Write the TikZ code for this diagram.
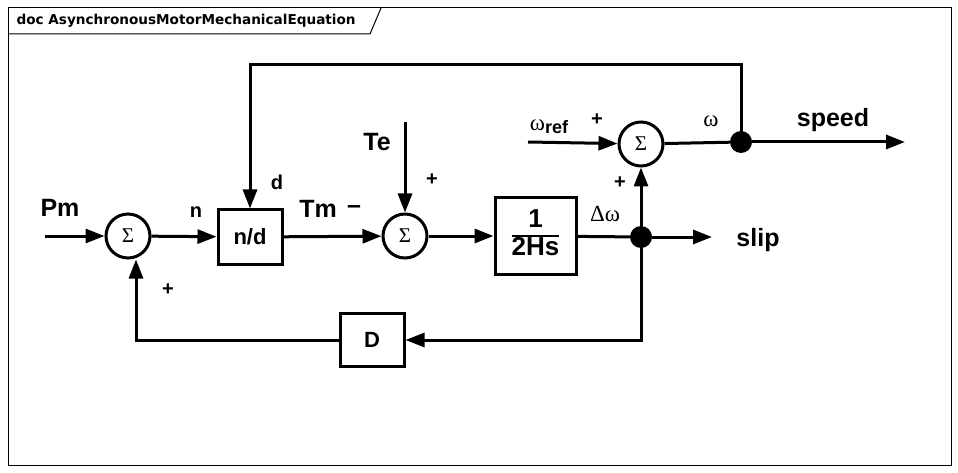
\documentclass[tikz,border=0pt]{standalone}
\usepackage{fontspec}
\setmainfont{Liberation Sans}
\newfontfamily\titlefont{DejaVu Sans}
\newfontfamily\serifgr{Liberation Serif}
\usetikzlibrary{arrows.meta}
\begin{document}
\begin{tikzpicture}[x=1pt,y=-1pt,
  wire/.style={line width=3pt},
  arr/.style={wire,-{Triangle[length=19pt,width=14pt]}},
  sumnode/.style={circle,draw,line width=3pt,minimum size=44pt,inner sep=0pt,font=\serifgr\fontsize{21}{21}\selectfont},
  blk/.style={draw,line width=3pt,inner sep=0pt,font=\bfseries\fontsize{22}{24}\selectfont},
  dotn/.style={circle,fill=black,minimum size=22pt,inner sep=0pt},
  lbl/.style={font=\bfseries\fontsize{25}{26}\selectfont},
  slbl/.style={font=\bfseries\fontsize{20}{21}\selectfont},
  glbl/.style={font=\serifgr\fontsize{23}{24}\selectfont},
  frm/.style={line width=1pt}]
\useasboundingbox (0,0) rectangle (958,473);
\draw[frm] (8,8) rectangle (951,465);
\draw[frm] (8,34) -- (370,34) -- (381,8);
\node[anchor=west,font=\titlefont\bfseries\fontsize{13.6}{15}\selectfont] (title) at (13,21) {doc AsynchronousMotorMechanicalEquation};
\node[sumnode] (s1) at (128,236) {Σ};
\node[blk,minimum width=64pt,minimum height=54pt] (nd) at (250,237) {n/d};
\node[sumnode] (s2) at (405,236) {Σ};
\node[blk,minimum width=81pt,minimum height=76pt,font=\bfseries\fontsize{26}{28}\selectfont] (h) at (535.5,236) {\setlength{\arrayrulewidth}{2pt}\renewcommand{\arraystretch}{0.9}\begin{tabular}{@{}c@{}}1\\\hline 2Hs\end{tabular}};
\node[sumnode] (s3) at (641,144) {Σ};
\node[blk,minimum width=64pt,minimum height=53pt] (D) at (372,340) {D};
\node[dotn] (j1) at (641,237) {};
\node[dotn] (j2) at (741,142) {};
\coordinate (pmin) at (45,236);
\coordinate (tein) at (405,122);
\coordinate (wrin) at (528,142);
\coordinate (slipout) at (712,237);
\coordinate (spout) at (905,142);
\draw[arr] (pmin) -- (s1);
\draw[arr] (s1) -- (nd);
\draw[arr] (nd) -- (s2);
\draw[arr] (tein) -- (s2);
\draw[arr] (s2) -- (h);
\draw[wire] (h) -- (j1);
\draw[arr] (j1) -- (slipout);
\draw[arr] (j1) -- (s3);
\draw[arr] (wrin) -- (s3);
\draw[wire] (s3) -- (j2);
\draw[arr] (j2) -- (spout);
\draw[arr] (j2.center) -- (741,65) -- (250,65) -- (nd.north);
\draw[arr] (j1.center) -- (641,340) -- (D.east);
\draw[arr] (D.west) -- (136,340) -- (s1.south -| 136,0);
\node[lbl] (pm) at (60,208) {Pm};
\node[slbl] (ln) at (196,212) {n};
\node[slbl] (ld) at (277,182) {d};
\node[lbl] (tm) at (318,209) {Tm};
\node[lbl] (mi) at (354,210) {\textendash};
\node[lbl] (te) at (377,142) {Te};
\node[slbl] (p1) at (432,180) {+};
\node[glbl] (dw) at (605,214) {Δω};
\node[slbl] (p2) at (620,183) {+};
\node[glbl] (wr) at (549,127) {ω\raisebox{-3pt}{\rmfamily\bfseries\fontsize{18}{18}\selectfont ref}};
\node[slbl] (p3) at (597,120) {+};
\node[glbl] (w) at (711,121) {ω};
\node[lbl] (sp) at (833,120) {speed};
\node[lbl] (sl) at (758,240) {slip};
\node[slbl] (p4) at (168,290) {+};
\end{tikzpicture}
\end{document}
